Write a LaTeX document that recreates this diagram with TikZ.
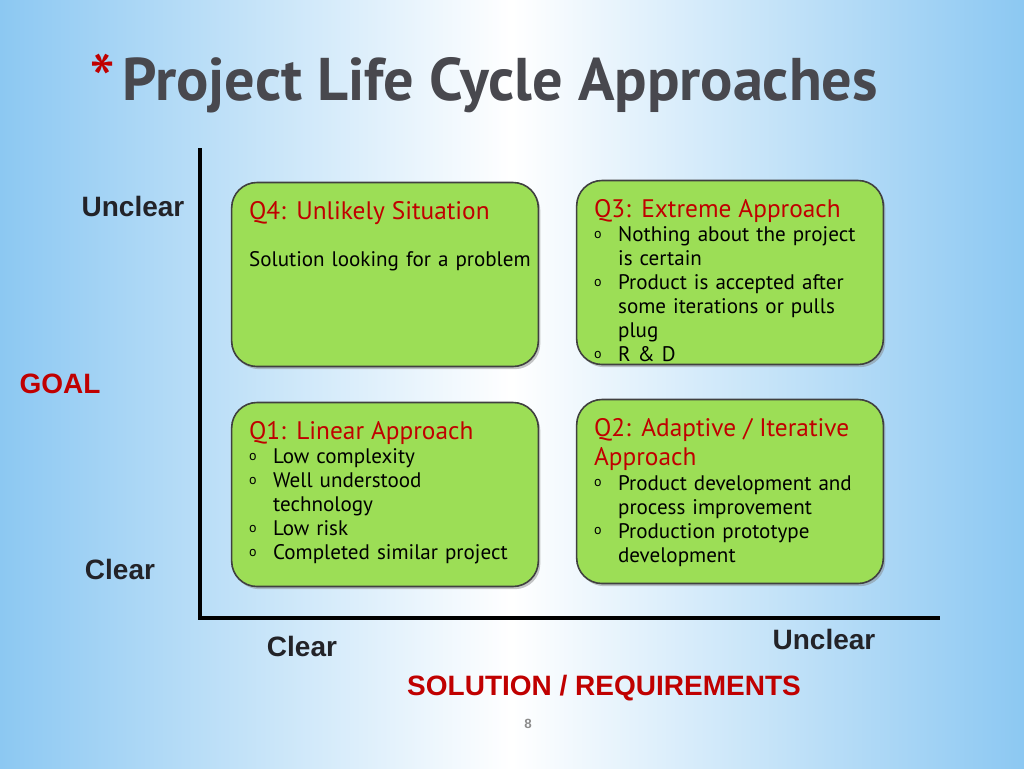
\documentclass[tikz,border=0pt]{standalone}
\usepackage{fontspec}
\setmainfont{PT Sans}
\newfontfamily\labelfont{Liberation Sans}
\usetikzlibrary{shadows,positioning}

\definecolor{bgblue}{RGB}{140,200,242}
\definecolor{boxgreen}{RGB}{156,222,86}
\definecolor{headred}{RGB}{192,0,0}
\definecolor{labelgray}{RGB}{35,35,40}
\definecolor{titlegray}{RGB}{72,72,78}

% bullet line with hanging indent
\newcommand{\bul}{\par\hangindent=18pt\hangafter=1\noindent\makebox[18pt][l]{\raisebox{2.3pt}{\fontsize{10.5}{10.5}\selectfont o}}}
\newcommand{\qhead}[1]{{\color{headred}\fontsize{19}{22}\selectfont #1\par}\vspace{0.5pt}}

\tikzset{
  quad/.style={draw=black!75, line width=1.2pt, fill=boxgreen, rounded corners=19pt,
    minimum width=230pt, minimum height=138pt, inner sep=0pt,
    drop shadow={shadow xshift=1.5pt, shadow yshift=-2pt, opacity=0.45}},
  qtext/.style={anchor=north west, inner sep=0pt, text width=220pt, align=left,
    font=\fontsize{15.8}{18}\selectfont, text=black},
  axislabel/.style={font=\labelfont\bfseries\fontsize{21}{24}\selectfont, text=labelgray},
  axisname/.style={font=\labelfont\bfseries\fontsize{21}{24}\selectfont, text=headred}
}

\begin{document}
\begin{tikzpicture}[x=0.75pt,y=-0.75pt]
  % background
  \useasboundingbox (0,0) rectangle (1024,768);
  \shade[left color=bgblue, right color=bgblue, middle color=white] (0,0) rectangle (1024,768);

  % title
  \node[anchor=base west, inner sep=0pt, text=titlegray, font=\bfseries\fontsize{45.2}{45.2}\selectfont] (title) at (122,100) {Project Life Cycle Approaches};
  \node[anchor=base east, inner sep=0pt, text=headred, font=\fontsize{56}{56}\selectfont] (star) at (116,107) {*};

  % axes
  \coordinate (ytop) at (200,150);
  \coordinate (origin) at (200,618);
  \coordinate (xend) at (938,618);
  \draw[line width=2.3pt, line cap=rect] (ytop) -- (origin) -- (xend);

  % quadrants
  \node[quad] (q4) at (385,274.5) {};
  \node[quad] (q3) at (730,272.5) {};
  \node[quad] (q1) at (385,494.5) {};
  \node[quad] (q2) at (730,491.5) {};

  \node[qtext] (q4text) at ([shift={(18,19)}]q4.north west) {%
    \qhead{Q4: Unlikely Situation}\vspace{17pt}
    \noindent Solution looking for a problem\par};
  \node[qtext] (q3text) at ([shift={(18,19)}]q3.north west) {%
    \qhead{Q3: Extreme Approach}
    \bul Nothing about the project\newline is certain
    \bul Product is accepted after\newline some iterations or pulls\newline plug
    \bul R \& D\par};
  \node[qtext] (q1text) at ([shift={(18,19)}]q1.north west) {%
    \qhead{Q1: Linear Approach}
    \bul Low complexity
    \bul Well understood\newline technology
    \bul Low risk
    \bul Completed similar project\par};
  \node[qtext] (q2text) at ([shift={(18,19)}]q2.north west) {%
    \qhead{Q2: Adaptive / Iterative\newline Approach}
    \bul Product development and\newline process improvement
    \bul Production prototype\newline development\par};

  % axis labels
  \node[axislabel] (yunclear) at (133,206) {Unclear};
  \node[axislabel] (yclear) at (120,569) {Clear};
  \node[axisname] (goal) at (60,384) {GOAL};
  \node[axislabel] (xclear) at (302,646) {Clear};
  \node[axislabel] (xunclear) at (824,639) {Unclear};
  \node[axisname] (solution) at (604,688) {SOLUTION / REQUIREMENTS};

  % page number
  \node[font=\labelfont\bfseries\fontsize{10}{12}\selectfont, text=black!45] (pagenum) at (528,724) {8};
\end{tikzpicture}
\end{document}
